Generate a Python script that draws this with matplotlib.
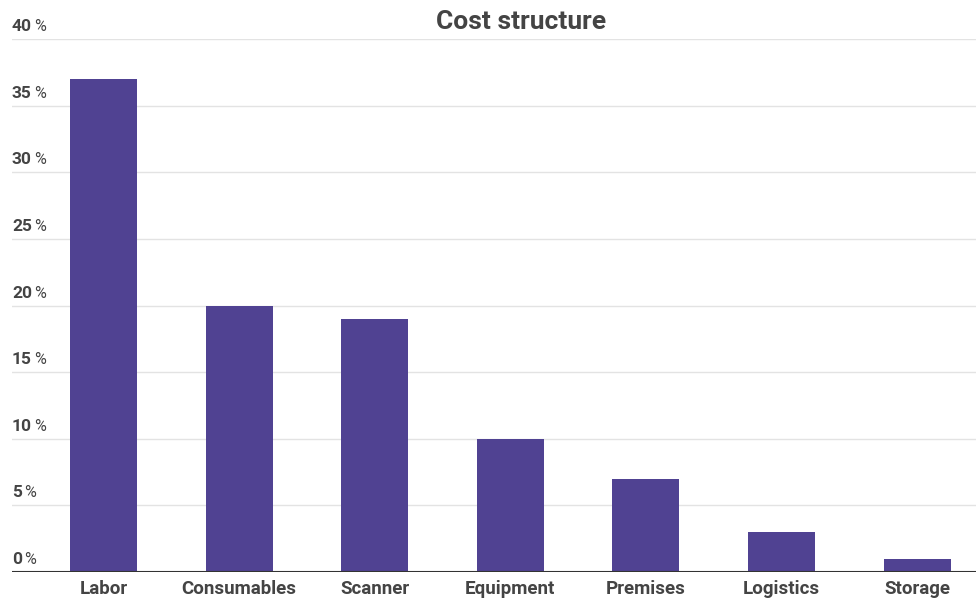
import matplotlib
matplotlib.use("Agg")
import matplotlib.pyplot as plt

categories = ["Labor", "Consumables", "Scanner", "Equipment", "Premises", "Logistics", "Storage"]
values = [37, 20, 19, 10, 7, 3, 1]
yticks = [0, 5, 10, 15, 20, 25, 30, 35, 40]

plt.rcParams['font.family'] = ['Roboto', 'DejaVu Sans']

W, H = 976, 600
fig = plt.figure(figsize=(W/100, H/100), dpi=100)
ax = fig.add_axes([12/W, (H-572)/H, (W-12)/W, (572-39)/H])

x = list(range(len(categories)))
ax.bar(x, values, width=0.494, color="#504292", zorder=3)
ax.set_xlim(-0.675, 6.435)
ax.set_ylim(0, 40)

for y in yticks:
    if y > 0:
        ax.axhline(y, color="#e3e3e3", lw=1, zorder=1)
    t = ax.annotate(str(y), xy=(0, y), xycoords=("axes fraction", "data"),
                    xytext=(0, 5), textcoords="offset pixels",
                    ha="left", va="bottom", fontsize=12.5, color="#444444",
                    fontweight="semibold")
    ax.annotate("%", xy=(1, 0), xycoords=t, xytext=(2, 0), textcoords="offset pixels",
                ha="left", va="bottom", fontsize=11.5, color="#444444",
                fontweight="normal")

ax.axhline(0, color="#333333", lw=1.5, zorder=4)
ax.set_yticks([])
ax.set_xticks(x)
ax.set_xticklabels(categories, fontsize=13.5, color="#444444", fontweight="semibold")
ax.tick_params(axis="x", length=0, pad=6)
for s in ax.spines.values():
    s.set_visible(False)

fig.text(521/W, 1 - 22/H, "Cost structure", ha="center", va="center",
         fontsize=19, fontweight="bold", color="#444444")

fig.savefig("out.png", dpi=100)
